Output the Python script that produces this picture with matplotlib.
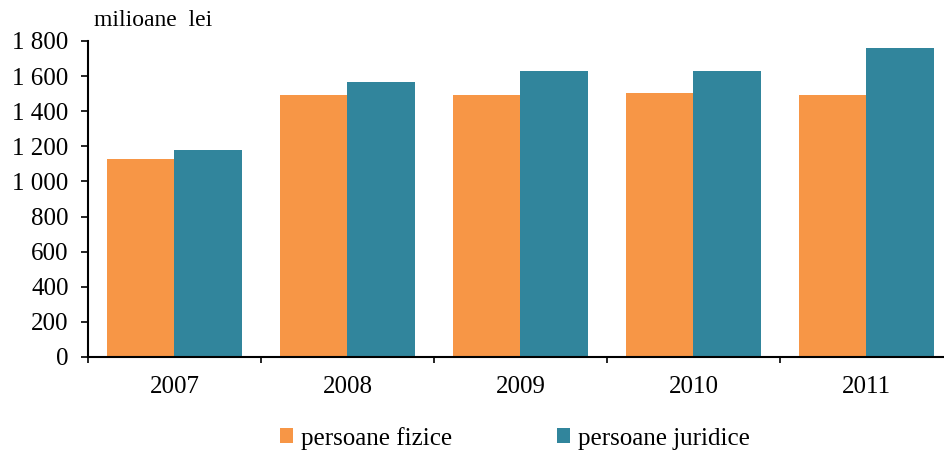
import matplotlib.pyplot as plt
import numpy as np
from matplotlib.ticker import FuncFormatter, FixedLocator

plt.rcParams["font.family"] = ["Liberation Serif", "DejaVu Serif"]

years = ["2007", "2008", "2009", "2010", "2011"]
fizice = [1127, 1492, 1492, 1502, 1492]
juridice = [1180, 1566, 1628, 1628, 1758]

orange = "#F79646"
teal = "#31859C"

fig = plt.figure(figsize=(9.45, 4.54), dpi=100)
# axis runs past the right edge of the picture, like the original
ax = fig.add_axes([0.0931, 0.2137, 0.9153, 0.696])

x = np.arange(len(years))
w = 0.39
ax.bar(x - w / 2, fizice, w, color=orange, label="persoane fizice")
ax.bar(x + w / 2, juridice, w, color=teal, label="persoane juridice")

ax.set_xlim(-0.5, len(years) - 0.5)
ax.set_ylim(0, 1800)
ax.set_yticks(np.arange(0, 1801, 200))
ax.yaxis.set_major_formatter(FuncFormatter(lambda v, p: f"{int(v):,}".replace(",", " ")))

ax.set_xticks(x)
ax.set_xticklabels(years)
ax.xaxis.set_minor_locator(FixedLocator(np.arange(-0.5, len(years), 1.0)))
ax.tick_params(axis="x", which="major", length=0, labelsize=18, pad=14)
ax.tick_params(axis="x", which="minor", length=4, width=1.2, direction="out")
ax.tick_params(axis="y", length=5, width=1.2, labelsize=18, pad=9)

for s in ["top", "right"]:
    ax.spines[s].set_visible(False)
for s in ["left", "bottom"]:
    ax.spines[s].set_linewidth(1.5)

fig.text(0.1, 0.955, "milioane  lei", fontsize=17, va="center", ha="left")

fig.legend(loc="center", bbox_to_anchor=(0.545, 0.035), ncol=2, frameon=False,
           fontsize=18, handlelength=0.52, handleheight=0.52, handletextpad=0.32,
           columnspacing=4.2)

fig.savefig("out.png", dpi=100)
